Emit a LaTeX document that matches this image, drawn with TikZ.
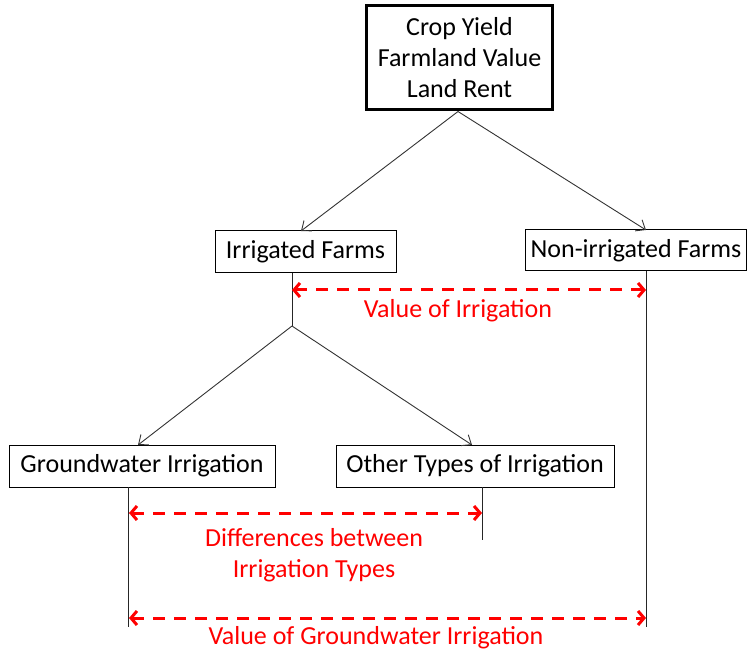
\documentclass[tikz,border=0pt]{standalone}
\usepackage{fontspec}
\setmainfont{Carlito}
\usetikzlibrary{arrows.meta}
\definecolor{redline}{RGB}{255,0,0}
\begin{document}
\begin{tikzpicture}[x=1pt,y=-1pt,
  box/.style={draw=black, line width=1pt, fill=white, inner sep=0pt, align=center,
    font=\fontsize{26}{31}\selectfont},
  topbox/.style={box, line width=3pt},
  conn/.style={draw=black!80, line width=0.9pt, -{Straight Barb[length=8pt,width=13pt]}},
  plain/.style={draw=black!85, line width=0.9pt},
  redarrow/.style={draw=redline, line width=3pt, dash pattern=on 12pt off 9pt,
    {Straight Barb[length=6pt,width=14pt]}-{Straight Barb[length=6pt,width=14pt]}},
  redlabel/.style={text=redline, align=center, inner sep=0pt, font=\fontsize{26}{31}\selectfont}
]
\useasboundingbox (0,0) rectangle (748,655);

% nodes
\node[topbox, minimum width=186pt, minimum height=104pt] (top) at (459.5,57.5)
  {Crop Yield\\Farmland Value\\Land Rent};
\node[box, minimum width=181pt, minimum height=42pt] (irr) at (305.5,252) {Irrigated Farms};
\node[box, minimum width=221pt, minimum height=41pt] (non) at (636,250.5) {Non-irrigated Farms};
\node[box, minimum width=266pt, minimum height=42pt] (gw) at (142,466) {Groundwater Irrigation};
\node[box, minimum width=278pt, minimum height=42pt] (oth) at (475,466) {Other Types of Irrigation};

% named coordinates
\coordinate (topout) at (458,111.5);
\coordinate (irrin) at (301,231);
\coordinate (nonin) at (646,230);
\coordinate (irrout) at (292,273);
\coordinate (branch) at (292,326);
\coordinate (gwin) at (138,445);
\coordinate (othin) at (472,445);
\coordinate (nonout) at (646,271);
\coordinate (nonend) at (646,627);
\coordinate (gwout) at (128.5,487);
\coordinate (gwend) at (128.5,627);
\coordinate (othout) at (482,487);
\coordinate (othend) at (482,540);

% connectors
\draw[conn] (topout) -- (irrin);
\draw[conn] (topout) -- (nonin);
\draw[plain] (irrout) -- (branch);
\draw[conn] (branch) -- (gwin);
\draw[conn] (branch) -- (othin);
\draw[plain] (nonout) -- (nonend);
\draw[plain] (gwout) -- (gwend);
\draw[plain] (othout) -- (othend);

% red measure arrows
\coordinate (a1l) at (292,290);
\coordinate (a1r) at (646,290);
\coordinate (a2l) at (129,513);
\coordinate (a2r) at (482,513);
\coordinate (a3l) at (129,618);
\coordinate (a3r) at (646,618);
\draw[redarrow] (a1l) -- (a1r);
\draw[redarrow] (a2l) -- (a2r);
\draw[redarrow] (a3l) -- (a3r);

\node[redlabel] (l1) at (458,311) {Value of Irrigation};
\node[redlabel] (l2) at (314,555.5) {Differences between\\Irrigation Types};
\node[redlabel] (l3) at (376,638) {Value of Groundwater Irrigation};
\end{tikzpicture}
\end{document}
